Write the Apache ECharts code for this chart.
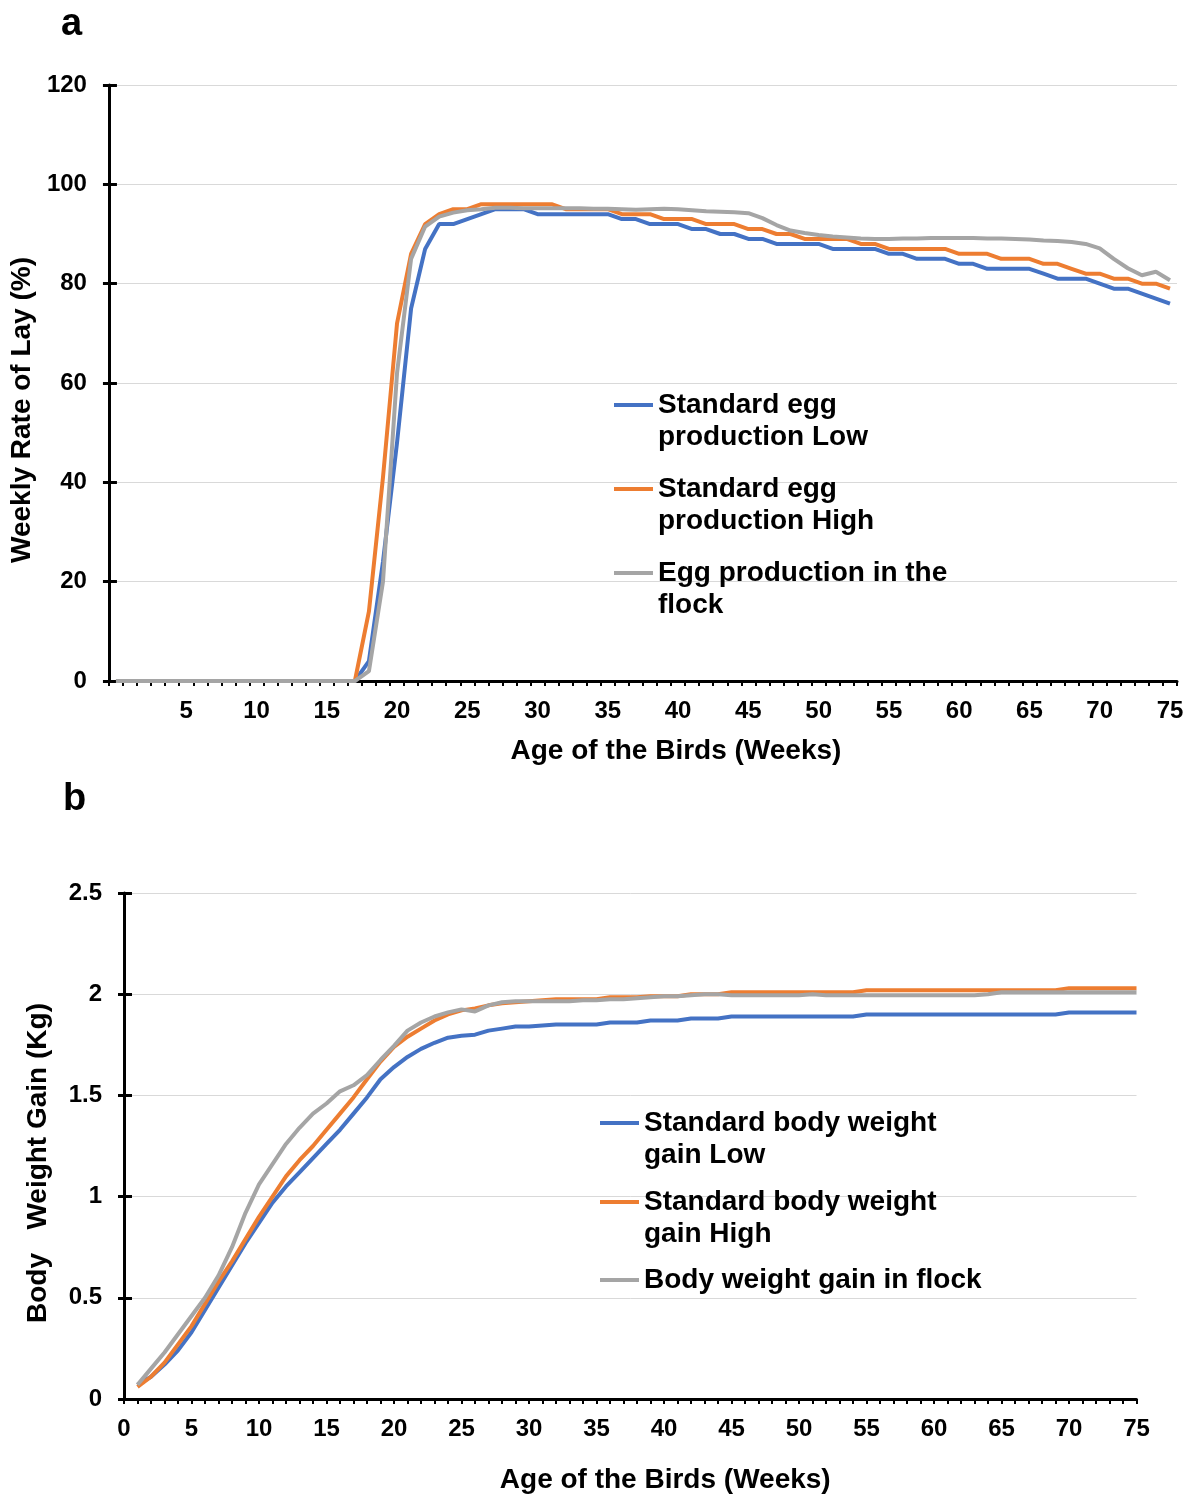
<!DOCTYPE html>
<html>
<head>
<meta charset="utf-8">
<script src="https://cdn.jsdelivr.net/npm/echarts@6/dist/echarts.min.js"></script>
<style>
  html, body { margin: 0; padding: 0; background: #fff; }
  #chart { width: 1192px; height: 1497px; }
</style>
</head>
<body>
<div id="chart"></div>
<script>
// ---------- DATA ----------
const weeks = [0,1,2,3,4,5,6,7,8,9,10,11,12,13,14,15,16,17,18,19,20,21,22,23,24,25,26,27,28,29,30,31,32,33,34,35,36,37,38,39,40,41,42,43,44,45,46,47,48,49,50,51,52,53,54,55,56,57,58,59,60,61,62,63,64,65,66,67,68,69,70,71,72,73,74,75];

// Panel a: weekly rate of lay (%)
const eggLow = [0,0,0,0,0,0,0,0,0,0,0,0,0,0,0,0,0,0,4,24,48,75,87,92,92,93,94,95,95,95,94,94,94,94,94,94,93,93,92,92,92,91,91,90,90,89,89,88,88,88,88,87,87,87,87,86,86,85,85,85,84,84,83,83,83,83,82,81,81,81,80,79,79,78,77,76];
const eggHigh = [0,0,0,0,0,0,0,0,0,0,0,0,0,0,0,0,0,0,14,41,72,86,92,94,95,95,96,96,96,96,96,96,95,95,95,95,94,94,94,93,93,93,92,92,92,91,91,90,90,89,89,89,89,88,88,87,87,87,87,87,86,86,86,85,85,85,84,84,83,82,82,81,81,80,80,79];
const eggFlock = [0,0,0,0,0,0,0,0,0,0,0,0,0,0,0,0,0,0,2,20,62,85,91.5,93.5,94.3,94.8,95,95.3,95.3,95.2,95.2,95.2,95.2,95.2,95.1,95.1,95,94.9,95,95.1,95,94.8,94.6,94.5,94.4,94.2,93.2,91.8,90.7,90.2,89.8,89.5,89.3,89.1,89,89,89.1,89.1,89.2,89.2,89.2,89.2,89.1,89.1,89,88.9,88.7,88.6,88.4,88,87.1,85,83.1,81.7,82.4,80.7];

// Panel b: body weight gain (kg)
const bwLow = [null,0.07,0.11,0.17,0.24,0.33,0.44,0.55,0.66,0.77,0.87,0.97,1.05,1.12,1.19,1.26,1.33,1.41,1.49,1.58,1.64,1.69,1.73,1.76,1.785,1.795,1.80,1.82,1.83,1.84,1.84,1.845,1.85,1.85,1.85,1.85,1.86,1.86,1.86,1.87,1.87,1.87,1.88,1.88,1.88,1.89,1.89,1.89,1.89,1.89,1.89,1.89,1.89,1.89,1.89,1.90,1.90,1.90,1.90,1.90,1.90,1.90,1.90,1.90,1.90,1.90,1.90,1.90,1.90,1.90,1.91,1.91,1.91,1.91,1.91,1.91];
const bwHigh = [null,0.06,0.11,0.18,0.27,0.36,0.47,0.58,0.68,0.79,0.90,1.00,1.10,1.18,1.25,1.33,1.41,1.49,1.58,1.667,1.74,1.79,1.83,1.87,1.90,1.92,1.93,1.945,1.955,1.96,1.965,1.97,1.975,1.975,1.975,1.975,1.985,1.985,1.985,1.99,1.99,1.99,2.0,2.0,2.0,2.01,2.01,2.01,2.01,2.01,2.01,2.01,2.01,2.01,2.01,2.02,2.02,2.02,2.02,2.02,2.02,2.02,2.02,2.02,2.02,2.02,2.02,2.02,2.02,2.02,2.03,2.03,2.03,2.03,2.03,2.03];
const bwFlock = [null,0.07,0.15,0.23,0.32,0.41,0.50,0.61,0.75,0.92,1.06,1.16,1.26,1.34,1.41,1.46,1.52,1.55,1.60,1.675,1.745,1.82,1.86,1.89,1.91,1.925,1.915,1.945,1.96,1.965,1.965,1.965,1.965,1.965,1.97,1.97,1.975,1.975,1.98,1.985,1.99,1.99,1.995,2.0,2.0,1.995,1.995,1.995,1.995,1.995,1.995,2.0,1.995,1.995,1.995,1.995,1.995,1.995,1.995,1.995,1.995,1.995,1.995,1.995,2.0,2.01,2.01,2.01,2.01,2.01,2.01,2.01,2.01,2.01,2.01,2.01];

const namesA = ['Standard egg\nproduction Low', 'Standard egg\nproduction High', 'Egg production in the\nflock'];
const namesB = ['Standard body weight\ngain Low', 'Standard body weight\ngain High', 'Body weight gain in flock'];
const colors = ['#4472C4', '#ED7D31', '#A5A5A5'];

// ---------- STYLE ----------
const FONT = '"Liberation Sans", Arial, Helvetica, sans-serif';
const black = '#000';
const gridColor = '#D9D9D9';

function xAxisCfg(gridIndex, gap, showZero, nameGap, namePad) {
  return {
    type: 'category', gridIndex, data: weeks, boundaryGap: gap,
    name: 'Age of the Birds (Weeks)', nameLocation: 'middle', nameGap: nameGap,
    nameTextStyle: { fontFamily: FONT, fontSize: 28, fontWeight: 'bold', color: black, padding: namePad },
    axisLine: { show: true, lineStyle: { color: black, width: 3 } },
    axisTick: { show: true, interval: 0, length: 5, lineStyle: { color: black, width: 2 } },
    axisLabel: {
      interval: function (i, v) { const n = Number(v); return n % 5 === 0 && (showZero || n !== 0); },
      fontFamily: FONT, fontSize: 24, fontWeight: 'bold', color: black, margin: 18
    },
    splitLine: { show: false }
  };
}
function yAxisCfg(gridIndex, min, max, interval, name, nameGap, namePad) {
  return {
    type: 'value', gridIndex, min, max, interval, position: 'left',
    name, nameLocation: 'middle', nameGap,
    nameTextStyle: { fontFamily: FONT, fontSize: 28, fontWeight: 'bold', color: black, padding: namePad },
    axisLine: { show: true, lineStyle: { color: black, width: 3 } },
    axisTick: { show: true, length: 6, lineStyle: { color: black, width: 3 } },
    axisLabel: { fontFamily: FONT, fontSize: 24, fontWeight: 'bold', color: black, margin: 22 },
    splitLine: { show: true, lineStyle: { color: gridColor, width: 1 } }
  };
}
function yInnerTicks(gridIndex, min, max, interval) {
  return {
    type: 'value', gridIndex, min, max, interval, position: 'left',
    axisLine: { show: false },
    axisTick: { show: true, inside: true, length: 8, lineStyle: { color: black, width: 3 } },
    axisLabel: { show: false }, splitLine: { show: false }
  };
}
// two-line legend entries: a leading blank line puts the marker level with the first text line
function legendCfg(name, left, iconY, twoLines) {
  return {
    data: [name], left, top: twoLines ? iconY - 48 : iconY - 16, orient: 'vertical', padding: 0,
    icon: 'rect', itemWidth: 39, itemHeight: 4, selectedMode: false,
    formatter: function (n) { return twoLines ? '\n' + n : n; },
    textStyle: { fontFamily: FONT, fontSize: 28, fontWeight: 'bold', color: black, lineHeight: 32 }
  };
}
function lineSeries(name, data, color, xi, yi) {
  return {
    name, type: 'line', data, xAxisIndex: xi, yAxisIndex: yi,
    showSymbol: false, symbol: 'none', connectNulls: false,
    lineStyle: { color, width: 4 }, itemStyle: { color },
    emphasis: { disabled: true }, animation: false
  };
}

const option = {
  backgroundColor: '#fff',
  animation: false,
  textStyle: { fontFamily: FONT },
  title: [
    { text: 'a', left: 56, top: 1, textStyle: { fontFamily: FONT, fontSize: 38, fontWeight: 'bold', color: black } },
    { text: 'b', left: 58, top: 776, textStyle: { fontFamily: FONT, fontSize: 38, fontWeight: 'bold', color: black } }
  ],
  grid: [
    { left: 105, top: 85, width: 1072, height: 596, containLabel: false },
    { left: 124, top: 893, width: 1012.5, height: 506, containLabel: false }
  ],
  xAxis: [
    xAxisCfg(0, true, false, 56, [0, 0, 0, 66]),
    xAxisCfg(1, false, true, 67, [0, 0, 0, 70])
  ],
  yAxis: [
    yAxisCfg(0, 0, 120, 20, 'Weekly Rate of Lay (%)', 61, [0, 54, 0, 0]),
    yAxisCfg(1, 0, 2.5, 0.5, 'Body   Weight Gain (Kg)', 72, [0, 34, 0, 0]),
    yInnerTicks(0, 0, 120, 20),
    yInnerTicks(1, 0, 2.5, 0.5)
  ],
  legend: [
    legendCfg(namesA[0], 614, 405, true),
    legendCfg(namesA[1], 614, 489, true),
    legendCfg(namesA[2], 614, 573, true),
    legendCfg(namesB[0], 600, 1123, true),
    legendCfg(namesB[1], 600, 1202, true),
    legendCfg(namesB[2], 600, 1280, false)
  ],
  series: [
    lineSeries(namesA[0], eggLow, colors[0], 0, 0),
    lineSeries(namesA[1], eggHigh, colors[1], 0, 0),
    lineSeries(namesA[2], eggFlock, colors[2], 0, 0),
    lineSeries(namesB[0], bwLow, colors[0], 1, 1),
    lineSeries(namesB[1], bwHigh, colors[1], 1, 1),
    lineSeries(namesB[2], bwFlock, colors[2], 1, 1)
  ]
};

const chart = echarts.init(document.getElementById('chart'), null, { renderer: 'canvas' });
chart.setOption(option);
</script>
</body>
</html>
